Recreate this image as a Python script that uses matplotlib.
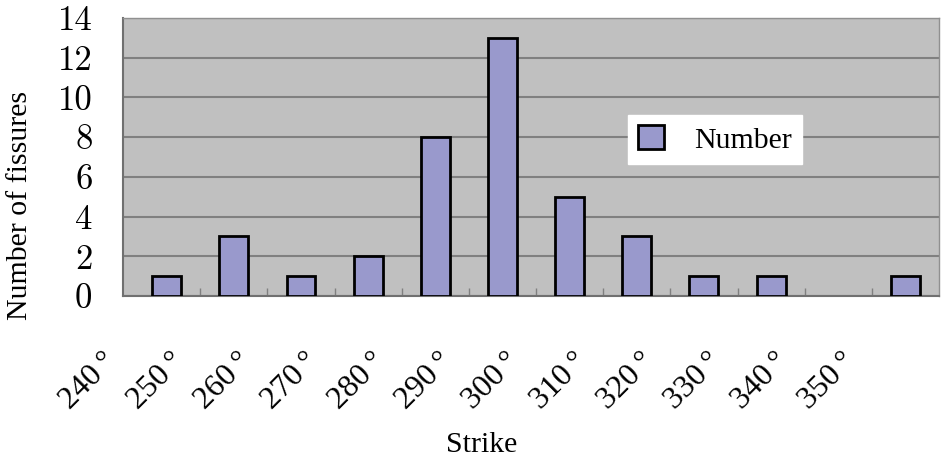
import numpy as np
import matplotlib
matplotlib.use('Agg')
import matplotlib.pyplot as plt

# --- Data ---
bin_labels = ['240\u2009°', '250\u2009°', '260\u2009°', '270\u2009°', '280\u2009°', '290\u2009°',
              '300\u2009°', '310\u2009°', '320\u2009°', '330\u2009°', '340\u2009°', '350\u2009°']
counts = [1, 3, 1, 2, 8, 13, 5, 3, 1, 1, 0, 1]
y_ticks = [0, 2, 4, 6, 8, 10, 12, 14]

SERIF = 'Liberation Serif'
W, H = 943, 463

fig = plt.figure(figsize=(W / 100, H / 100), dpi=100)
ax = fig.add_axes([123 / W, 1 - 296 / H, 816 / W, 278 / H])

x = np.arange(len(counts))
ax.set_facecolor('#c0c0c0')
# empty bins get no outline
edges = ['black' if c > 0 else 'none' for c in counts]
ax.bar(x, counts, width=0.43, color='#9999cc', edgecolor=edges,
       linewidth=2, zorder=3, label='Number')

ax.set_xlim(-0.5, len(counts) - 0.5)
ax.set_ylim(0, 14)
ax.set_yticks(y_ticks)
ax.yaxis.grid(True, color='#808080', linewidth=1.5, zorder=1)
ax.set_axisbelow(True)

# y tick labels
ax.tick_params(axis='y', length=0, pad=22)
for lab in ax.get_yticklabels():
    lab.set_fontfamily('cmr10')
    lab.set_fontsize(25)

# small tick marks at bin boundaries (minor), labels slightly left of them (major)
bounds = np.arange(len(counts)) - 0.5
ax.set_xticks(bounds[1:], minor=True)
ax.tick_params(axis='x', which='minor', direction='in', length=6,
               width=1, color='#808080')
ax.set_xticks(bounds - 0.15)
ax.set_xticklabels(bin_labels, rotation=45, ha='right', va='top',
                   fontfamily=SERIF, fontsize=23)
ax.tick_params(axis='x', which='major', length=0, pad=37)

for side in ['left', 'bottom']:
    ax.spines[side].set_color('#707070')
    ax.spines[side].set_linewidth(1.5)
for side in ['top', 'right']:
    ax.spines[side].set_color('#909090')
    ax.spines[side].set_linewidth(1.0)

fig.text(20 / W, 1 - 205 / H, 'Number of fissures', rotation=90,
         ha='center', va='center', fontfamily=SERIF, fontsize=21.5)
fig.text(482 / W, 1 - 445 / H, 'Strike', ha='center', va='center',
         fontfamily=SERIF, fontsize=21.5)

leg = ax.legend(loc='upper left', bbox_to_anchor=(628 / W, 1 - 115 / H),
                bbox_transform=fig.transFigure, frameon=True, fancybox=False,
                framealpha=1, edgecolor='white', facecolor='white',
                prop={'family': SERIF, 'size': 21.5}, handlelength=0.85,
                handleheight=0.85, handletextpad=1.0, borderpad=0.35,
                borderaxespad=0)

fig.savefig('out.png', dpi=100)
